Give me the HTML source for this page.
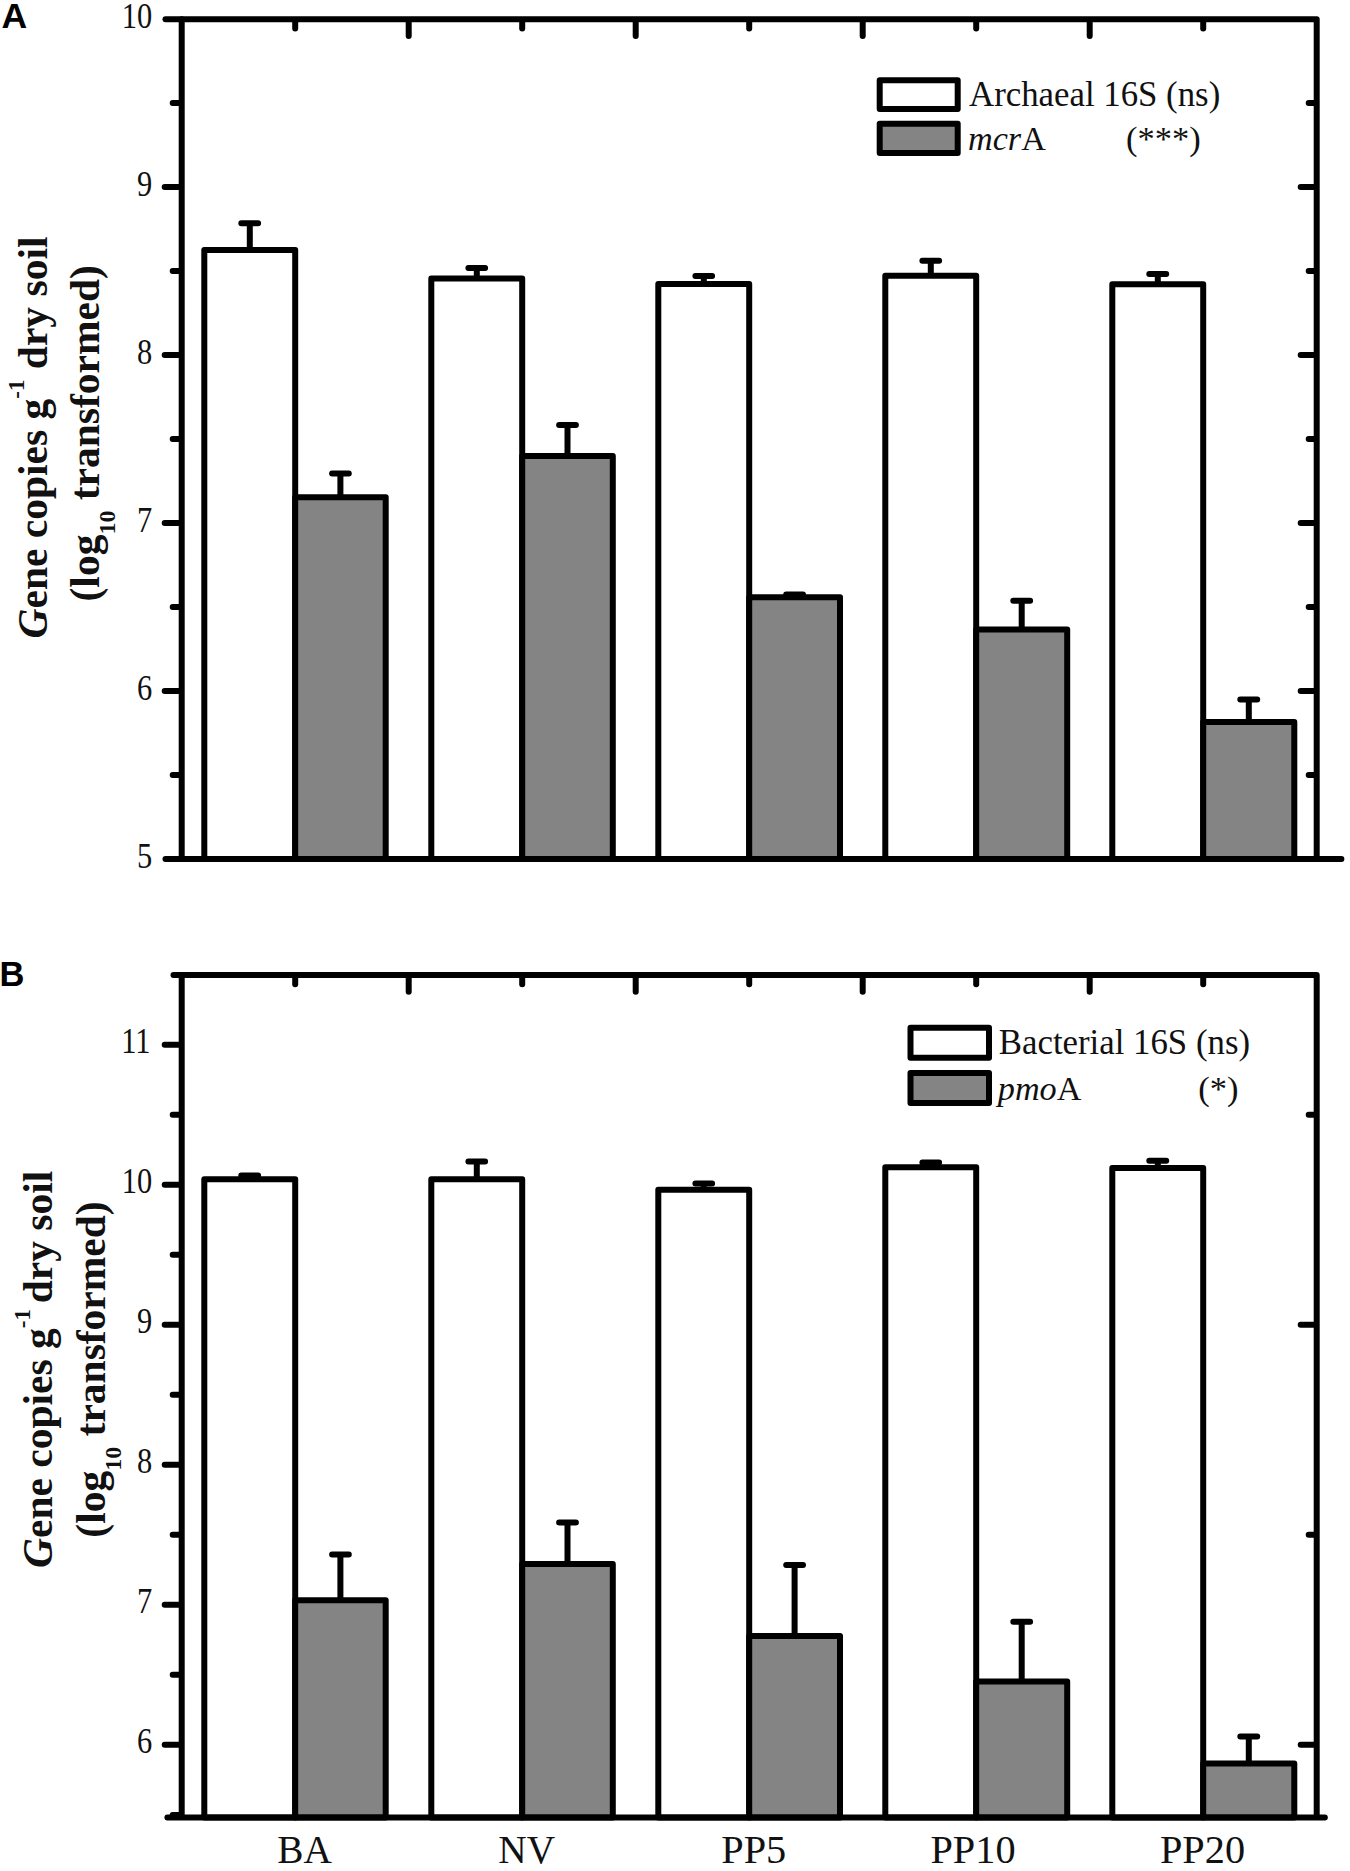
<!DOCTYPE html>
<html lang="en"><head><meta charset="utf-8"><title>Figure</title>
<style>html,body{margin:0;padding:0;background:#fff}svg{display:block}.s{font-family:"Liberation Serif","Times New Roman",serif;fill:#111}.b{font-family:"Liberation Sans",Arial,sans-serif;font-weight:bold;fill:#000}</style></head><body>
<svg width="1350" height="1871" viewBox="0 0 1350 1871">
<rect width="1350" height="1871" fill="#fff"/>
<style>.e,.f,.t,.r{stroke:#000;stroke-width:6}.e,.f{fill:none}.e,.t{stroke-linecap:round}.f{stroke-linejoin:round}.r{stroke-linejoin:round}.lj{stroke-linejoin:round}</style>
<path d="M249.8 249.9V223.2M241.3 223.2H258.1" class="e"/>
<path d="M340.4 497.3V473.6M332.1 473.6H348.8" class="e"/>
<rect x="204.3" y="249.9" width="90.9" height="609.1" fill="#fff" class="r"/>
<rect x="295.2" y="497.3" width="90.5" height="361.7" fill="#848484" class="r"/>
<path d="M476.8 278.4V268.1M468.4 268.1H485.1" class="e"/>
<path d="M567.5 456.1V424.9M559.1 424.9H575.9" class="e"/>
<rect x="431.3" y="278.4" width="90.9" height="580.6" fill="#fff" class="r"/>
<rect x="522.2" y="456.1" width="90.6" height="402.9" fill="#848484" class="r"/>
<path d="M703.8 283.9V275.9M695.4 275.9H712.1" class="e"/>
<path d="M794.6 597.2V594.5M786.2 594.5H803.0" class="e"/>
<rect x="658.3" y="283.9" width="90.9" height="575.1" fill="#fff" class="r"/>
<rect x="749.2" y="597.2" width="90.8" height="261.8" fill="#848484" class="r"/>
<path d="M930.8 275.8V260.7M922.4 260.7H939.1" class="e"/>
<path d="M1021.7 629.4V600.7M1013.3 600.7H1030.1" class="e"/>
<rect x="885.3" y="275.8" width="90.9" height="583.2" fill="#fff" class="r"/>
<rect x="976.2" y="629.4" width="91.0" height="229.6" fill="#848484" class="r"/>
<path d="M1157.8 284.2V274.0M1149.3 274.0H1166.2" class="e"/>
<path d="M1248.8 721.9V699.6M1240.3 699.6H1257.2" class="e"/>
<rect x="1112.3" y="284.2" width="90.9" height="574.8" fill="#fff" class="r"/>
<rect x="1203.2" y="721.9" width="91.1" height="137.1" fill="#848484" class="r"/>
<path d="M181.7 859.0V19.2H1316.7V859.0" class="f"/>
<path d="M165.5 859.0H1341.4" class="t"/>
<path d="M165.5 19.2H181.7" class="t"/>
<path d="M164.7 187.0H180.2" class="t"/>
<path d="M164.7 355.0H180.2" class="t"/>
<path d="M164.7 523.0H180.2" class="t"/>
<path d="M164.7 691.0H180.2" class="t"/>
<path d="M172.7 103.0H180.2" class="t"/>
<path d="M172.7 271.0H180.2" class="t"/>
<path d="M172.7 439.0H180.2" class="t"/>
<path d="M172.7 607.0H180.2" class="t"/>
<path d="M172.7 775.0H180.2" class="t"/>
<path d="M1300.7 187.0H1315.2" class="t"/>
<path d="M1300.7 355.0H1315.2" class="t"/>
<path d="M1300.7 523.0H1315.2" class="t"/>
<path d="M1300.7 691.0H1315.2" class="t"/>
<path d="M1308.7 103.0H1315.2" class="t"/>
<path d="M1308.7 271.0H1315.2" class="t"/>
<path d="M1308.7 439.0H1315.2" class="t"/>
<path d="M1308.7 607.0H1315.2" class="t"/>
<path d="M1308.7 775.0H1315.2" class="t"/>
<path d="M295.2 20.7V28.5" class="t"/>
<path d="M522.2 20.7V28.5" class="t"/>
<path d="M749.2 20.7V28.5" class="t"/>
<path d="M976.2 20.7V28.5" class="t"/>
<path d="M1203.2 20.7V28.5" class="t"/>
<path d="M408.7 20.7V36.0" class="t"/>
<path d="M635.7 20.7V36.0" class="t"/>
<path d="M862.7 20.7V36.0" class="t"/>
<path d="M1089.7 20.7V36.0" class="t"/>
<path d="M249.8 1179.2V1175.5M241.3 1175.5H258.1" class="e"/>
<path d="M340.4 1600.2V1554.6M332.1 1554.6H348.8" class="e"/>
<rect x="204.3" y="1179.2" width="90.9" height="638.2" fill="#fff" class="r"/>
<rect x="295.2" y="1600.2" width="90.5" height="217.2" fill="#848484" class="r"/>
<path d="M476.8 1179.2V1161.5M468.4 1161.5H485.1" class="e"/>
<path d="M567.5 1564.1V1522.4M559.1 1522.4H575.9" class="e"/>
<rect x="431.3" y="1179.2" width="90.9" height="638.2" fill="#fff" class="r"/>
<rect x="522.2" y="1564.1" width="90.6" height="253.3" fill="#848484" class="r"/>
<path d="M703.8 1189.7V1183.6M695.4 1183.6H712.1" class="e"/>
<path d="M794.6 1636.1V1564.9M786.2 1564.9H803.0" class="e"/>
<rect x="658.3" y="1189.7" width="90.9" height="627.7" fill="#fff" class="r"/>
<rect x="749.2" y="1636.1" width="90.8" height="181.3" fill="#848484" class="r"/>
<path d="M930.8 1167.2V1162.4M922.4 1162.4H939.1" class="e"/>
<path d="M1021.7 1681.4V1621.8M1013.3 1621.8H1030.1" class="e"/>
<rect x="885.3" y="1167.2" width="90.9" height="650.2" fill="#fff" class="r"/>
<rect x="976.2" y="1681.4" width="91.0" height="136.0" fill="#848484" class="r"/>
<path d="M1157.8 1168.1V1160.7M1149.3 1160.7H1166.2" class="e"/>
<path d="M1248.8 1763.5V1736.5M1240.3 1736.5H1257.2" class="e"/>
<rect x="1112.3" y="1168.1" width="90.9" height="649.3" fill="#fff" class="r"/>
<rect x="1203.2" y="1763.5" width="91.1" height="53.9" fill="#848484" class="r"/>
<path d="M181.7 1817.4V974.9H1316.7V1817.4" class="f"/>
<path d="M167.4 1817.4H1324.8" class="t"/>
<path d="M173.5 974.9H181.7" class="t"/>
<path d="M164.7 1044.8H180.2" class="t"/>
<path d="M164.7 1184.8H180.2" class="t"/>
<path d="M164.7 1324.8H180.2" class="t"/>
<path d="M164.7 1464.8H180.2" class="t"/>
<path d="M164.7 1604.8H180.2" class="t"/>
<path d="M164.7 1744.8H180.2" class="t"/>
<path d="M172.7 1114.8H180.2" class="t"/>
<path d="M172.7 1254.8H180.2" class="t"/>
<path d="M172.7 1394.8H180.2" class="t"/>
<path d="M172.7 1534.8H180.2" class="t"/>
<path d="M172.7 1674.8H180.2" class="t"/>
<path d="M1300.7 1324.8H1315.2" class="t"/>
<path d="M1300.7 1744.8H1315.2" class="t"/>
<path d="M1308.7 1114.8H1315.2" class="t"/>
<path d="M1308.7 1534.8H1315.2" class="t"/>
<path d="M295.2 976.4V984.2" class="t"/>
<path d="M522.2 976.4V984.2" class="t"/>
<path d="M749.2 976.4V984.2" class="t"/>
<path d="M976.2 976.4V984.2" class="t"/>
<path d="M1203.2 976.4V984.2" class="t"/>
<path d="M408.7 976.4V991.7" class="t"/>
<path d="M635.7 976.4V991.7" class="t"/>
<path d="M862.7 976.4V991.7" class="t"/>
<path d="M1089.7 976.4V991.7" class="t"/>
<path d="M172.7 1815H180" class="t"/>
<text transform="translate(152.3 27.8) scale(0.875 1)" text-anchor="end" class="s" font-size="34.8">10</text>
<text transform="translate(152.3 195.8) scale(0.875 1)" text-anchor="end" class="s" font-size="34.8">9</text>
<text transform="translate(152.3 363.8) scale(0.875 1)" text-anchor="end" class="s" font-size="34.8">8</text>
<text transform="translate(152.3 531.8) scale(0.875 1)" text-anchor="end" class="s" font-size="34.8">7</text>
<text transform="translate(152.3 699.8) scale(0.875 1)" text-anchor="end" class="s" font-size="34.8">6</text>
<text transform="translate(152.3 867.8) scale(0.875 1)" text-anchor="end" class="s" font-size="34.8">5</text>
<text transform="translate(150.6 1052.8) scale(0.875 1)" text-anchor="end" class="s" font-size="34.8">11</text>
<text transform="translate(152.3 1192.8) scale(0.875 1)" text-anchor="end" class="s" font-size="34.8">10</text>
<text transform="translate(152.3 1332.8) scale(0.875 1)" text-anchor="end" class="s" font-size="34.8">9</text>
<text transform="translate(152.3 1472.8) scale(0.875 1)" text-anchor="end" class="s" font-size="34.8">8</text>
<text transform="translate(152.3 1612.8) scale(0.875 1)" text-anchor="end" class="s" font-size="34.8">7</text>
<text transform="translate(152.3 1752.8) scale(0.875 1)" text-anchor="end" class="s" font-size="34.8">6</text>
<text x="304.5" y="1863" text-anchor="middle" class="s" font-size="39.3">BA</text>
<text x="526.7" y="1863" text-anchor="middle" class="s" font-size="39.3">NV</text>
<text x="753.8" y="1863" text-anchor="middle" class="s" font-size="40.3">PP5</text>
<text x="973.0" y="1863" text-anchor="middle" class="s" font-size="40.3">PP10</text>
<text x="1202.5" y="1863" text-anchor="middle" class="s" font-size="40.3">PP20</text>
<text x="1.4" y="28" class="b" font-size="35.6">A</text>
<text x="-0.4" y="985.6" class="b" font-size="34.5">B</text>
<rect x="879.7" y="80.3" width="78.0" height="28.7" fill="#fff" class="r lj"/>
<rect x="879.7" y="123.8" width="78.0" height="29.2" fill="#848484" class="r lj"/>
<text x="969" y="106.1" class="s" font-size="34.8">Archaeal 16S (ns)</text>
<text x="968" y="150" class="s" font-size="34.2"><tspan font-style="italic">mcr</tspan>A</text>
<text x="1126" y="150" class="s" font-size="34.5">(***)</text>
<rect x="910.5" y="1027.7" width="78.5" height="30.0" fill="#fff" class="r lj"/>
<rect x="910.5" y="1073" width="78.5" height="30.0" fill="#848484" class="r lj"/>
<text x="998.8" y="1054.3" class="s" font-size="34.8">Bacterial 16S (ns)</text>
<text x="997.8" y="1099.5" class="s" font-size="34.2"><tspan font-style="italic">pmo</tspan>A</text>
<text x="1198.3" y="1099.5" class="s" font-size="34.5">(*)</text>
<g transform="translate(46.6 437.5) rotate(-90)"><text x="0" y="0" text-anchor="middle" class="s" style="font-kerning:none" font-weight="bold" font-size="41.5"><tspan font-style="italic">G</tspan>ene copies g<tspan font-size="23" dy="-22.5">-1</tspan><tspan dy="22.5" dx="0"> dry soil</tspan></text></g>
<g transform="translate(99.3 433.3) rotate(-90)"><text x="0" y="0" text-anchor="middle" class="s" style="font-kerning:none" font-weight="bold" font-size="41.5">(log<tspan font-size="24" dy="16">10</tspan><tspan dy="-16"> transformed)</tspan></text></g>
<g transform="translate(52.0 1369.3) rotate(-90)"><text x="0" y="0" text-anchor="middle" class="s" style="font-kerning:none" font-weight="bold" font-size="41.5"><tspan font-style="italic">G</tspan>ene copies g<tspan font-size="23" dy="-22.5">-1</tspan><tspan dy="22.5" dx="-4.6"> dry soil</tspan></text></g>
<g transform="translate(104.5 1369.5) rotate(-90)"><text x="0" y="0" text-anchor="middle" class="s" style="font-kerning:none" font-weight="bold" font-size="41.5">(log<tspan font-size="24" dy="16">10</tspan><tspan dy="-16"> transformed)</tspan></text></g>
</svg></body></html>
